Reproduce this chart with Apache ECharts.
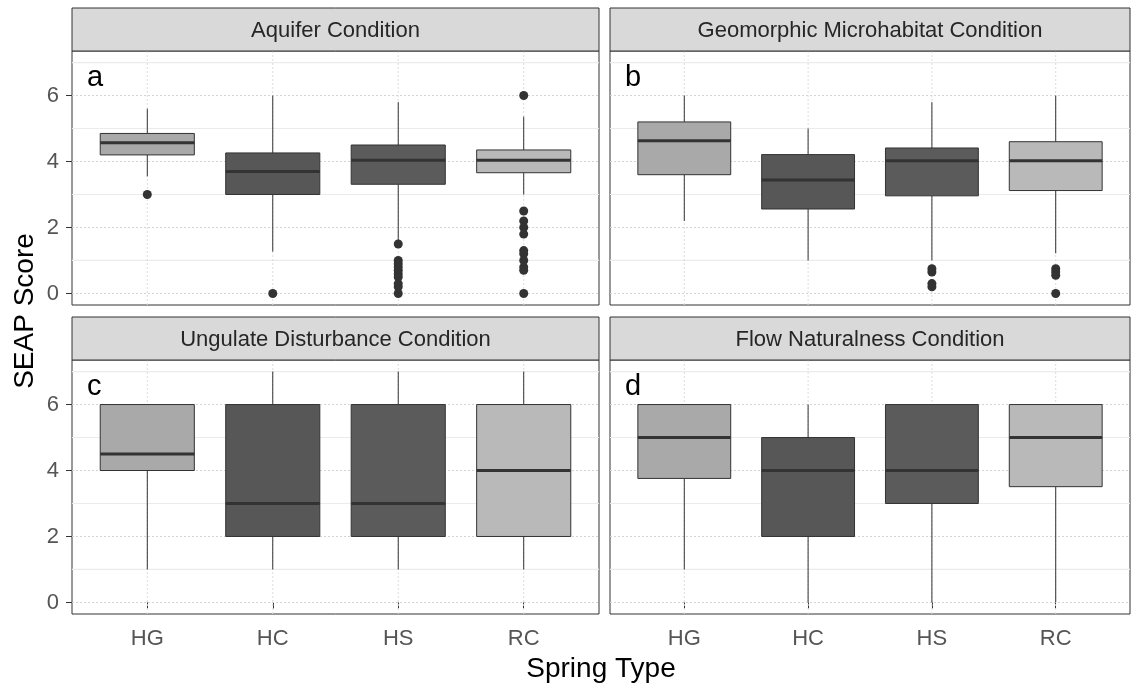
<!DOCTYPE html>
<html>
<head>
<meta charset="utf-8">
<script src="https://cdn.jsdelivr.net/npm/echarts@6/dist/echarts.min.js"></script>
<style>
  html, body { margin: 0; padding: 0; background: #fff; }
  #chart { width: 1133px; height: 692px; }
</style>
</head>
<body>
<div id="chart"></div>
<script>
// Spring types on the x axis
const categories = ['HG', 'HC', 'HS', 'RC'];
const panelTitles = ['Aquifer Condition', 'Geomorphic Microhabitat Condition',
                     'Ungulate Disturbance Condition', 'Flow Naturalness Condition'];
const panelLetters = ['a', 'b', 'c', 'd'];

// Box summaries per spring type: [lower whisker, Q1, median, Q3, upper whisker]
const aquiferStats    = [[3.55, 4.2, 4.57, 4.85, 5.6], [1.27, 3.0, 3.7, 4.26, 6.0],
                         [1.6, 3.31, 4.04, 4.5, 5.8],  [3.0, 3.66, 4.04, 4.35, 5.36]];
const geomorphicStats = [[2.2, 3.6, 4.63, 5.2, 6.0],   [1.0, 2.56, 3.44, 4.21, 5.0],
                         [1.0, 2.96, 4.02, 4.41, 5.8], [1.22, 3.12, 4.02, 4.6, 6.0]];
const ungulateStats   = [[1, 4, 4.5, 6, 6], [1, 2, 3, 6, 7], [1, 2, 3, 6, 7], [1, 2, 4, 6, 7]];
const flowStats       = [[1, 3.76, 5, 6, 6], [0, 2, 4, 5, 6], [0, 3, 4, 6, 6], [0, 3.51, 5, 6, 6]];

// Outlying scores per spring type
const aquiferOutliers    = [[3.0], [0], [1.5, 1.0, 0.9, 0.8, 0.7, 0.6, 0.5, 0.3, 0.2, 0],
                            [6.0, 2.5, 2.2, 2.0, 1.8, 1.3, 1.2, 1.0, 0.8, 0.7, 0]];
const geomorphicOutliers = [[], [], [0.75, 0.65, 0.3, 0.2], [0.75, 0.65, 0.55, 0]];
const ungulateOutliers   = [[], [], [], []];
const flowOutliers       = [[], [], [], []];

// Axis ticks and grid lines
const yTicks = [0, 2, 4, 6];
const yMinorGrid = [1, 3, 5, 7];
const xTicks = [1, 2, 3, 4];

const boxColors = ['#a9a9a9', '#575757', '#5b5b5b', '#b9b9b9'];

const panelStats = [aquiferStats, geomorphicStats, ungulateStats, flowStats];
const panelOutliers = [aquiferOutliers, geomorphicOutliers, ungulateOutliers, flowOutliers];

const FONT = "'Liberation Sans', Arial, Helvetica, sans-serif";
const panelBoxes = [
  { left: 72,  top: 51,  width: 527, height: 254 },
  { left: 610, top: 51,  width: 520, height: 254 },
  { left: 72,  top: 360, width: 527, height: 254 },
  { left: 610, top: 360, width: 520, height: 254 }
];
const STRIP_H = 43;

const grids = [], xAxes = [], yAxes = [], series = [], graphics = [];

panelBoxes.forEach((p, i) => {
  const isLeft = i % 2 === 0;
  const isBottom = i >= 2;
  grids.push({ left: p.left, top: p.top, width: p.width, height: p.height,
               show: true, borderColor: '#333333', borderWidth: 1, backgroundColor: '#ffffff' });
  xAxes.push({
    gridIndex: i, type: 'value', min: 0.4, max: 4.6,
    axisLine: { show: false }, splitLine: { show: false },
    axisTick: { show: isBottom, customValues: xTicks, length: 6, lineStyle: { color: '#333333', width: 1 } },
    axisLabel: { show: isBottom, customValues: xTicks, margin: 14,
                 formatter: v => categories[Math.round(v) - 1] || '',
                 color: '#555555', fontSize: 22, fontFamily: FONT }
  });
  yAxes.push({
    gridIndex: i, type: 'value', min: -0.35, max: 7.35,
    axisLine: { show: false }, splitLine: { show: false },
    axisTick: { show: isLeft, customValues: yTicks, length: 6, lineStyle: { color: '#333333', width: 1 } },
    axisLabel: { show: isLeft, customValues: yTicks, margin: 13,
                 color: '#555555', fontSize: 22, fontFamily: FONT }
  });

  // minor horizontal grid lines
  series.push({
    type: 'custom', xAxisIndex: i, yAxisIndex: i, silent: true, z: 1,
    data: yMinorGrid.map(v => [1, v]),
    renderItem: (params, api) => {
      const cs = params.coordSys;
      const y = api.coord([1, api.value(1)])[1];
      return { type: 'line', shape: { x1: cs.x, y1: y, x2: cs.x + cs.width, y2: y },
               style: { stroke: '#ebebeb', lineWidth: 1.2 } };
    }
  });
  // major horizontal grid lines
  series.push({
    type: 'custom', xAxisIndex: i, yAxisIndex: i, silent: true, z: 1,
    data: yTicks.map(v => [1, v]),
    renderItem: (params, api) => {
      const cs = params.coordSys;
      const y = api.coord([1, api.value(1)])[1];
      return { type: 'line', shape: { x1: cs.x, y1: y, x2: cs.x + cs.width, y2: y },
               style: { stroke: '#d4d4d4', lineWidth: 1, lineDash: [2, 2] } };
    }
  });
  // vertical grid lines at the spring types
  series.push({
    type: 'custom', xAxisIndex: i, yAxisIndex: i, silent: true, z: 1,
    data: xTicks.map(v => [v, 0]),
    renderItem: (params, api) => {
      const cs = params.coordSys;
      const x = api.coord([api.value(0), 0])[0];
      return { type: 'line', shape: { x1: x, y1: cs.y, x2: x, y2: cs.y + cs.height },
               style: { stroke: '#dcdcdc', lineWidth: 1, lineDash: [2, 2] } };
    }
  });

  // boxes, whiskers and medians
  series.push({
    type: 'custom', xAxisIndex: i, yAxisIndex: i, silent: true, z: 3,
    data: panelStats[i].map((s, k) => [k + 1].concat(s)),
    encode: { x: 0, y: [1, 2, 3, 4, 5] },
    renderItem: (params, api) => {
      const x = api.value(0);
      const lo = api.coord([x, api.value(1)]);
      const q1 = api.coord([x, api.value(2)]);
      const med = api.coord([x, api.value(3)]);
      const q3 = api.coord([x, api.value(4)]);
      const hi = api.coord([x, api.value(5)]);
      const halfW = api.size([0.75, 0])[0] / 2;
      const cx = lo[0];
      const children = [];
      if (lo[1] - q1[1] > 0.5) children.push({ type: 'line',
        shape: { x1: cx, y1: q1[1], x2: cx, y2: lo[1] }, style: { stroke: '#333333', lineWidth: 1 } });
      if (q3[1] - hi[1] > 0.5) children.push({ type: 'line',
        shape: { x1: cx, y1: q3[1], x2: cx, y2: hi[1] }, style: { stroke: '#333333', lineWidth: 1 } });
      children.push({ type: 'rect',
        shape: { x: cx - halfW, y: q3[1], width: 2 * halfW, height: q1[1] - q3[1] },
        style: { fill: boxColors[params.dataIndex], stroke: '#333333', lineWidth: 1 } });
      children.push({ type: 'line',
        shape: { x1: cx - halfW, y1: med[1], x2: cx + halfW, y2: med[1] },
        style: { stroke: '#333333', lineWidth: 3 } });
      return { type: 'group', children };
    }
  });

  // outlying points
  const pts = [];
  panelOutliers[i].forEach((vals, k) => vals.forEach(v => pts.push([k + 1, v])));
  series.push({
    type: 'scatter', xAxisIndex: i, yAxisIndex: i, silent: true, z: 4,
    symbol: 'circle', symbolSize: 9, data: pts,
    itemStyle: { color: '#333333', opacity: 1 }
  });

  // facet strip
  graphics.push({
    type: 'rect', z: 10,
    shape: { x: p.left, y: p.top - STRIP_H, width: p.width, height: STRIP_H },
    style: { fill: '#d9d9d9', stroke: '#333333', lineWidth: 1 }
  });
  graphics.push({
    type: 'text', z: 11, x: p.left + p.width / 2, y: p.top - STRIP_H / 2 + 1,
    style: { text: panelTitles[i], fill: '#262626', font: `22px ${FONT}`,
             align: 'center', verticalAlign: 'middle' }
  });
  // panel letter
  graphics.push({
    type: 'text', z: 11, x: p.left + 15, y: p.top + 12,
    style: { text: panelLetters[i], fill: '#000000', font: `29px ${FONT}`,
             align: 'left', verticalAlign: 'top' }
  });
});

// axis titles
graphics.push({
  type: 'text', z: 11, x: 601, y: 669,
  style: { text: 'Spring Type', fill: '#000000', font: `28px ${FONT}`,
           align: 'center', verticalAlign: 'middle' }
});
graphics.push({
  type: 'text', z: 11, x: 25, y: 311, rotation: Math.PI / 2,
  style: { text: 'SEAP Score', fill: '#000000', font: `28px ${FONT}`,
           align: 'center', verticalAlign: 'middle' }
});

const chart = echarts.init(document.getElementById('chart'), null, { renderer: 'canvas' });
chart.setOption({
  animation: false,
  backgroundColor: '#ffffff',
  grid: grids,
  xAxis: xAxes,
  yAxis: yAxes,
  series: series,
  graphic: graphics
});
</script>
</body>
</html>
